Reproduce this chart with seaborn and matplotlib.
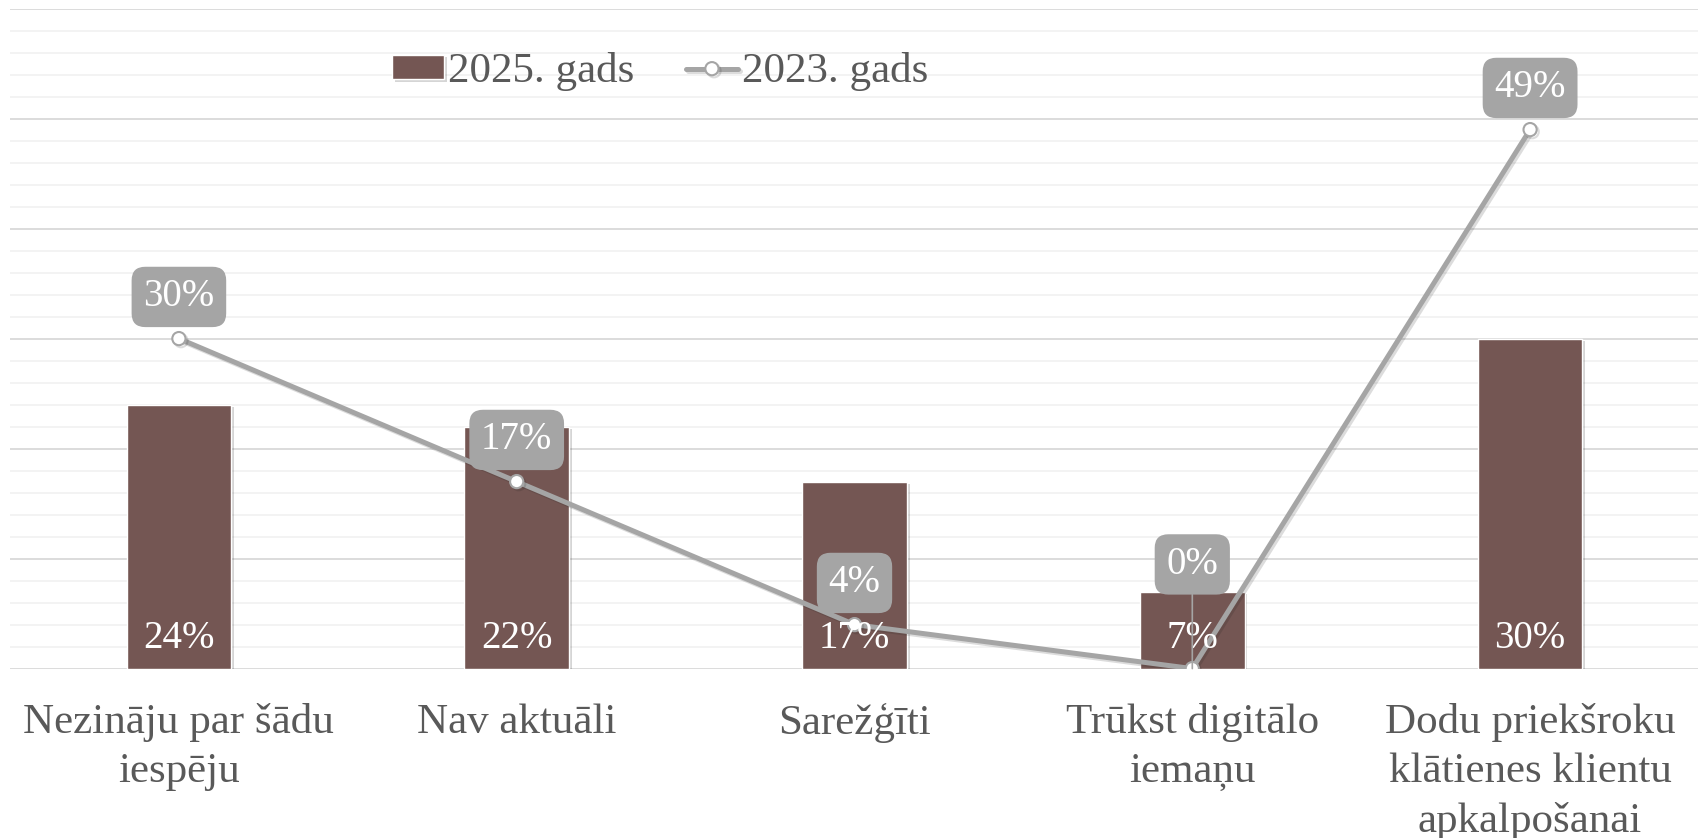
import matplotlib
matplotlib.use('Agg')

import matplotlib.pyplot as plt
import matplotlib.patheffects as pe
import seaborn as sns
import numpy as np
import pandas as pd

categories = [
    'Nezināju par šādu\niespēju',
    'Nav aktuāli',
    'Sarežģīti',
    'Trūkst digitālo\niemaņu',
    'Dodu priekšroku\nklātienes klientu\napkalpošanai',
]
values_2025 = [24, 22, 17, 7, 30]
values_2023 = [30, 17, 4, 0, 49]
series_2025 = '2025. gads'
series_2023 = '2023. gads'

BAR_COLOR = '#745653'
LINE_COLOR = '#A5A5A5'
TEXT_COLOR = '#595959'

sns.set_theme(style='white')
plt.rcParams['font.family'] = ['Liberation Serif', 'DejaVu Serif']

fig = plt.figure(figsize=(16.99, 8.38), dpi=100)
ax = fig.add_axes([10 / 1699, 1 - 668.6 / 838, 1 - 10 / 1699, 660 / 838])

df = pd.DataFrame({'cat': categories, 'v25': values_2025, 'v23': values_2023})
x = np.arange(len(categories))

# grid: light minor every 2%, darker major every 10%
ax.set_ylim(0, 60)
ax.set_yticks(np.arange(0, 61, 10))
ax.set_yticks(np.arange(0, 61, 2), minor=True)
ax.grid(axis='y', which='minor', color='#F2F2F2', lw=1.3, zorder=0)
ax.grid(axis='y', which='major', color='#D9D9D9', lw=1.3, zorder=0)
ax.set_axisbelow(True)

sns.barplot(data=df, x='cat', y='v25', color=BAR_COLOR, width=0.31,
            saturation=1, ax=ax, label=series_2025, zorder=2)
for p in ax.patches:
    p.set_path_effects([pe.SimplePatchShadow(offset=(2, -1.5), alpha=0.18, shadow_rgbFace='k'),
                        pe.Normal()])

sns.lineplot(x=x, y=values_2023, ax=ax, color=LINE_COLOR, lw=3.6,
             marker='o', markersize=9.5, markerfacecolor='white',
             markeredgecolor=LINE_COLOR, markeredgewidth=1.5,
             label=series_2023, zorder=4)
ax.lines[-1].set_path_effects([pe.SimpleLineShadow(offset=(1.5, -1.5), alpha=0.15),
                               pe.Normal()])

# bar labels at the base of each bar
for xi, v in zip(x, values_2025):
    ax.annotate(f'{v}%', (xi, 0), xytext=(0, 15), textcoords='offset points',
                ha='center', va='baseline', color='white', fontsize=28, zorder=5)

# line labels in grey boxes above each point
box = dict(boxstyle='round,pad=0.3,rounding_size=0.35', fc=LINE_COLOR, ec='none')
for xi, v in zip(x, values_2023):
    if v == 0:
        ax.annotate(f'{v}%', (xi, v), xytext=(0, 75), textcoords='offset points',
                    ha='center', va='center', color='white', fontsize=28, zorder=6,
                    bbox=box,
                    arrowprops=dict(arrowstyle='-', color=LINE_COLOR, lw=1.2,
                                    shrinkA=0, shrinkB=0))
    else:
        ax.annotate(f'{v}%', (xi, v), xytext=(0, 30), textcoords='offset points',
                    ha='center', va='center', color='white', fontsize=28, zorder=6,
                    bbox=box)

ax.set_xlim(-0.5, len(categories) - 0.5)
ax.set_xlabel('')
ax.set_ylabel('')
ax.set_yticklabels([])
ax.tick_params(axis='y', length=0)
ax.tick_params(axis='x', length=0, pad=25, labelsize=31, labelcolor=TEXT_COLOR)
for lbl in ax.get_xticklabels():
    lbl.set_linespacing(1.35)
for s in ax.spines.values():
    s.set_visible(False)

handles, labels = ax.get_legend_handles_labels()
order = [labels.index(series_2025), labels.index(series_2023)]
leg = ax.legend([handles[i] for i in order], [labels[i] for i in order],
                loc='center', bbox_to_anchor=(0.385, 0.904), ncol=2,
                frameon=False, fontsize=31, labelcolor=TEXT_COLOR,
                handlelength=1.2, handleheight=0.5, handletextpad=0.1,
                columnspacing=1.2)

fig.savefig('out.png', dpi=100)
plt.close(fig)
